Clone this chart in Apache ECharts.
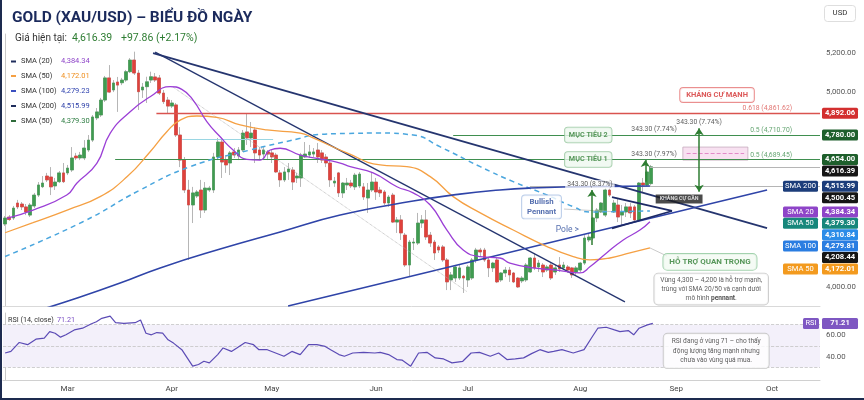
<!DOCTYPE html>
<html><head><meta charset="utf-8">
<script src="https://cdn.jsdelivr.net/npm/echarts@6/dist/echarts.min.js"></script>
<style>html,body{margin:0;padding:0;background:#fff}#c{width:864px;height:400px}</style>
</head><body><div id="c"></div>
<script>
// ---------- DATA ----------
// candles: [open, close, low, high]
const ohlc = [
[4322,4353,4312,4363],[4358,4345,4338,4368],[4353,4404,4343,4415],[4430,4410,4399,4446],[4425,4410,4394,4435],
[4410,4384,4368,4425],[4368,4420,4358,4430],[4415,4471,4404,4482],[4471,4523,4461,4538],[4514,4533,4507,4569],
[4569,4549,4538,4585],[4564,4513,4471,4615],[4518,4538,4497,4559],[4540,4585,4533,4595],[4585,4540,4533,4636],
[4585,4610,4574,4626],[4600,4662,4590,4718],[4672,4662,4651,4688],[4662,4677,4651,4693],[4662,4713,4651,4754],
[4703,4754,4693,4780],[4754,4873,4744,4883],[4868,4899,4857,4919],[4883,4960,4873,4971],[4960,5074,4950,5084],
[5074,5001,4996,5140],[5012,5048,5001,5063],[5053,5037,4899,5079],[5049,5063,5037,5074],[5063,5106,5054,5115],
[5106,5166,5099,5176],[5166,5099,5089,5209],[5099,5003,4909,5115],[5012,5027,4971,5048],[5029,5054,4945,5080],
[5063,5080,5048,5106],[5079,5063,5053,5099],[5074,4996,4986,5089],[4996,4952,4940,5012],[4960,4929,4893,4976],
[4929,4945,4919,4960],[4935,4780,4770,4945],[4780,4651,4615,4821],[4651,4497,4482,4667],[4497,4420,4137,4549],
[4420,4482,4327,4513],[4466,4487,4456,4497],[4497,4394,4353,4549],[4394,4507,4379,4538],[4497,4507,4487,4518],
[4497,4667,4482,4688],[4667,4744,4651,4765],[4744,4641,4559,4765],[4651,4626,4585,4677],[4636,4688,4574,4698],
[4693,4677,4662,4713],[4672,4703,4651,4718],[4703,4790,4693,4806],[4796,4765,4729,4893],[4765,4790,4718,4847],
[4806,4688,4636,4821],[4703,4677,4651,4718],[4682,4703,4651,4718],[4693,4682,4651,4703],[4688,4667,4636,4703],
[4677,4590,4585,4688],[4585,4549,4513,4600],[4549,4590,4538,4615],[4590,4605,4549,4636],[4600,4538,4497,4615],
[4559,4569,4533,4585],[4559,4677,4513,4688],[4667,4682,4662,4744],[4677,4693,4662,4729],[4682,4693,4667,4713],
[4703,4667,4636,4739],[4688,4651,4636,4703],[4667,4636,4615,4682],[4636,4549,4513,4651],[4533,4543,4513,4564],
[4585,4482,4461,4590],[4482,4533,4456,4538],[4523,4533,4497,4559],[4533,4518,4507,4549],[4513,4574,4497,4585],
[4518,4579,4507,4590],[4513,4461,4446,4533],[4456,4497,4379,4533],[4497,4538,4487,4590],[4538,4487,4446,4559],
[4497,4482,4461,4513],[4487,4430,4420,4497],[4430,4461,4410,4471],[4471,4332,4327,4482],[4332,4343,4276,4358],
[4343,4276,4240,4368],[4265,4111,4101,4276],[4111,4229,4049,4240],[4224,4229,4188,4250],[4224,4327,4214,4379],
[4327,4343,4302,4368],[4343,4255,4240,4394],[4265,4224,4204,4281],[4229,4173,4137,4240],[4204,4188,4173,4214],
[4204,4137,4127,4214],[4137,4024,3982,4147],[4034,4060,3982,4075],[4044,4101,4024,4111],[4044,4096,4034,4111],
[4054,4044,3967,4060],[4034,4101,3998,4111],[4044,4137,4034,4147],[4137,4188,4121,4199],[4188,4178,4152,4199],
[4188,4137,4127,4199],[4137,4096,4049,4147],[4096,4121,4075,4127],[4137,4024,4018,4147],[4034,4070,4024,4075],
[4070,4085,4049,4101],[4085,4060,4024,4101],[4070,4024,4018,4075],[4044,3998,3993,4049],[4029,4044,4018,4054],
[4034,4111,4024,4121],[4075,4147,4070,4152],[4147,4096,4085,4173],[4101,4121,4075,4137],[4111,4075,4049,4121],
[4085,4101,4075,4111],[4111,4044,4034,4121],[4075,4096,4060,4111],[4111,4091,4075,4152],[4096,4111,4085,4127],
[4101,4085,4070,4111],[4096,4060,4044,4101],[4075,4096,4060,4106],[4085,4121,4075,4127],[4121,4250,4111,4265],
[4240,4255,4229,4276],[4250,4353,4240,4358],[4353,4394,4332,4404],[4384,4430,4379,4435],[4368,4497,4358,4507],
[4497,4471,4461,4549],[4384,4430,4379,4446],[4420,4358,4332,4456],[4368,4384,4317,4420],[4384,4410,4358,4430],
[4410,4379,4353,4430],[4410,4343,4332,4420],[4343,4533,4332,4538],[4533,4523,4482,4559],[4523,4590,4513,4600],
[4530,4616.39,4520,4626]
];
// moving averages: [candle index, price]
const sma20Pts = [[0.4,4351],[6.7,4394],[14.8,4471],[17.2,4532],[22,4634],[25.2,4789],[30,4900],[34.8,4977],[39.6,5029],[42.4,5015],[45.1,4960],[48.4,4849],[51.6,4771],[54.7,4703],[58,4655],[61.2,4651],[63.6,4703],[66,4712],[70.8,4677],[77.2,4651],[80.4,4636],[82.8,4617],[88.3,4585],[94,4514],[97.9,4482],[102,4420],[106,4291],[109.9,4188],[114,4154],[118.7,4147],[121.1,4121],[126.7,4096],[132.3,4085],[137.9,4070],[140.3,4102],[144.3,4173],[148.3,4240],[152.3,4291],[154.7,4334]];
const sma50Pts = [[0,4277],[6.7,4329],[14.9,4394],[22.8,4463],[29.3,4566],[34.8,4694],[38.8,4797],[42,4857],[46,4878],[50.8,4871],[56.4,4832],[62.8,4806],[70.8,4790],[73.9,4765],[82,4688],[90,4626],[96.4,4617],[102,4566],[107.5,4463],[114,4379],[121.9,4291],[130,4206],[136.3,4154],[140.3,4137],[145.1,4147],[149.9,4173],[154.7,4199]];
const sma100Pts = [[0,4155],[18.7,4334],[32.4,4497],[44.4,4617],[58.8,4703],[70.8,4763],[73.9,4780],[82,4788],[90,4790],[97.9,4780],[104.3,4720],[114,4617],[121.9,4540],[130,4471],[136.3,4411],[140.3,4384],[147,4386],[154.7,4389]];
const sma200Pts = [[8.4,3880],[17.3,3941],[27.6,4018],[37.2,4096],[51.6,4193],[66,4281],[80.4,4368],[97.9,4440],[109.1,4476],[118.7,4497],[125.9,4507],[135.5,4513],[154.7,4518]];
// RSI(14): [candle index, value]
const rsiPts = [[0,43.4],[1.4,44.9],[3.4,53.3],[5.4,51.2],[7.4,56.4],[9.4,57.4],[10.7,63.5],[12,62.0],[13.3,58.3],[14.6,60.5],[16.6,65.1],[18.6,66.7],[20.6,70.7],[21.9,72.8],[23.2,76.0],[25.2,78.1],[26.5,71.9],[28.5,71.3],[31.2,71.9],[32.5,74.4],[33.8,62.0],[35.1,60.5],[36.4,62.6],[37.8,62.0],[39.1,55.8],[40.4,52.7],[42.4,46.5],[43.7,38.8],[45,31.0],[46.4,32.6],[47.7,35.6],[49,34.1],[51,41.9],[52.3,48.1],[54.3,44.9],[55.6,48.1],[57.6,53.3],[59.6,51.2],[60.9,46.5],[62.9,46.5],[64.9,43.4],[66.9,40.3],[68.8,44.9],[70.8,41.9],[72.8,51.2],[74.8,51.2],[76.8,49.6],[78.1,46.5],[80.1,41.9],[81.4,40.3],[83.4,43.4],[86,44.0],[88.7,43.4],[90,44.0],[92,41.9],[94,37.2],[95.3,36.6],[97.3,31.0],[99.2,43.4],[101.2,44.0],[103.2,38.8],[105.2,37.8],[107.2,34.1],[109.8,35.6],[111.8,43.4],[113.8,44.0],[116.4,40.3],[118.4,43.4],[120.4,37.2],[122.4,37.8],[124.4,38.8],[126.3,42.8],[128.3,46.5],[130.3,44.0],[131.6,44.9],[133.6,46.5],[136.3,43.4],[138.9,46.5],[140.9,58.9],[142.2,66.7],[144.2,67.6],[146.2,65.1],[147.5,63.5],[149.5,64.5],[150.8,60.5],[152.1,66.7],[154.1,69.8],[155.4,71.21]];
const rsiLast = 71.21;
// axis
const nCats = 196;
const cats = Array.from({length:nCats},(_,i)=>String(i));
const monthTickIdx = [15,40,64,89,111,138,161,184];
const monthTickLabels = ['Mar','Apr','May','Jun','Jul','Aug','Sep','Oct'];
const yTicksShown = [4000,5000,5200];
const rsiTicksShown = [40,60];
// header
const priceNow = 4616.39, priceChg = 97.86, priceChgPct = 2.17;
// legend
const legendNames = ['SMA (20)','SMA (50)','SMA (100)','SMA (200)','SMA (50)'];
const legendValues = [4384.34,4172.01,4279.23,4515.99,4379.30];
// price levels
const lvlStrongRes = 4892.06, lvlTarget2 = 4780.00, lvlTarget1 = 4654.00, lvlSma200 = 4515.99;
const fibLabels = ['0.618 (4,861.62)','0.5 (4,710.70)','0.5 (4,689.45)'];
const moveLabels = ['343.30 (8.37%)','343.30 (7.97%)','343.30 (7.74%)','343.30 (7.74%)'];
// right-axis tags
const tagValues = [4892.06,4780.00,4654.00,4616.39,4515.99,4500.45,4384.34,4379.30,4310.84,4279.81,4208.44,4172.01];
const tagNames  = ['','','','','SMA 200','','SMA 20','SMA 50','','SMA 100','','SMA 50'];
// trend lines [[x,y],[x,y]] in (candle index, price)
const trendUpper = [[35.5,5202],[182.8,4301]];
const trendSteep = [[36,5207],[148.7,3921]];
const trendLower = [[67.9,3900],[182.8,4497]];
const trendDotted = [[40.3,5027],[110.8,3974]];
const pennantTop = [[145.6,4461],[160,4389]];
const pennantBot = [[145.6,4300],[160,4389]];
const arrowPole = [140.8,4214,4497];
const arrowBreak = [153.6,4540,4651];
const arrowTarget = [166.5,4488,4815];

// ---------- STYLE ----------
const FONT = 'Roboto, "Noto Sans", sans-serif';
const f2 = v => v.toLocaleString('en-US',{minimumFractionDigits:2,maximumFractionDigits:2});
const tagColors = ['#d32f2f','#1e5f2c','#1e5f2c','#151515','#1c3d7a','#151515','#8e44c8','#17877b','#2b8ce8','#2a7de1','#151515','#f39a1e'];
const legendMarkColors = ['#1f2d5c','#f5a043','#3a4fc0','#1f2d5c','#2e6b3a'];
const legendValueColors = ['#8e44c8','#ef8f1f','#3245b0','#2c3fa8','#2e7d42'];
const GREEN='#3f8f4f', NAVY='#25356f';
const XR = 195.5;

function seg(a,b,style,s1,s2){return [{coord:a,lineStyle:style,symbol:s1||'none'},{coord:b,symbol:s2||'none'}];}
function hline(v,x0,style){return seg([x0,v],[XR,v],style);}

const chart = echarts.init(document.getElementById('c'),null,{renderer:'canvas'});

const bodies = ohlc.map(d=>[d[0],d[1],Math.min(d[0],d[1]),Math.max(d[0],d[1])]);

function lab(x,y,text,opt){return {value:[x,y],label:Object.assign({show:true,position:'inside',formatter:text,fontFamily:FONT},opt)};}

const annotations = [
  lab(170.8,4986,'KHÁNG CỰ MẠNH',{color:'#d32f2f',fontSize:7.5,fontWeight:'bold',backgroundColor:'#fff',borderColor:'#e57373',borderWidth:0.9,borderRadius:3,padding:[3,6]}),
  lab(139.9,lvlTarget2,'MỤC TIÊU 2',{color:'#2e7d32',fontSize:7.2,fontWeight:'bold',backgroundColor:'#eef7ef',borderColor:'#8cc195',borderWidth:0.8,borderRadius:3,padding:[4,4]}),
  lab(139.9,lvlTarget1,'MỤC TIÊU 1',{color:'#2e7d32',fontSize:7.2,fontWeight:'bold',backgroundColor:'#eef7ef',borderColor:'#8cc195',borderWidth:0.8,borderRadius:3,padding:[4,4]}),
  lab(188.8,lvlStrongRes,fibLabels[0],{color:'#d9534f',fontSize:6.8,align:'right',verticalAlign:'bottom',offset:[0,-1]}),
  lab(188.8,lvlTarget2,fibLabels[1],{color:GREEN,fontSize:6.8,align:'right',verticalAlign:'bottom',offset:[0,-1]}),
  lab(188.8,lvlTarget1,fibLabels[2],{color:GREEN,fontSize:6.8,align:'right',verticalAlign:'bottom',offset:[0,-1]}),
  lab(140.3,4525,moveLabels[0],{color:'#333',fontSize:6.8,backgroundColor:'rgba(255,255,255,0.9)',padding:[1,2]}),
  lab(155.7,lvlTarget1,moveLabels[1],{color:'#333',fontSize:6.8,verticalAlign:'bottom',offset:[0,-2]}),
  lab(155.7,lvlTarget2,moveLabels[2],{color:'#333',fontSize:6.8,verticalAlign:'bottom',offset:[0,-2]}),
  lab(166.5,arrowTarget[2],moveLabels[3],{color:'#333',fontSize:6.8,verticalAlign:'bottom',offset:[0,-2]}),
  lab(161.7,4451,'KHÁNG CỰ GẦN',{color:'#fff',fontSize:5.3,fontWeight:'bold',backgroundColor:'#1e1e1e',padding:[2,4]}),
  lab(128.7,4410,'Bullish\nPennant',{color:'#2a4b9b',fontSize:7.8,fontWeight:'bold',lineHeight:10.5,align:'center',backgroundColor:'#fff',borderColor:'#a9c1e3',borderWidth:0.9,borderRadius:3,padding:[1,5]}),
  lab(134.9,4291,'Pole >',{color:'#2a4b9b',fontSize:8.5}),
  lab(169.1,4127,'HỖ TRỢ QUAN TRỌNG',{color:'#2e7d32',fontSize:8,fontWeight:'bold',backgroundColor:'#f3faf3',borderColor:'#8cc79a',borderWidth:0.9,borderRadius:4,padding:[4,6]}),
  lab(169.4,3987,'Vùng 4,300 – 4,200 là hỗ trợ mạnh,\ntrùng với SMA 20/50 và cạnh dưới\nmô hình {b|pennant}.',{color:'#333',fontSize:6.6,lineHeight:9,align:'center',backgroundColor:'#fff',borderColor:'#bdbdbd',borderWidth:0.9,borderRadius:4,padding:[2,6],rich:{b:{fontWeight:'bold',fontSize:6.6,lineHeight:9,color:'#222',fontFamily:FONT}}})
];

const option = {
  animation:false,
  textStyle:{fontFamily:FONT},
  grid:[{left:3,right:44,top:34,height:272},{left:3,right:44,top:313,height:67}],
  xAxis:[
    {type:'category',gridIndex:0,data:cats,axisLine:{show:true,lineStyle:{color:'#d9d9d9'}},axisTick:{show:false},axisLabel:{show:false},splitLine:{show:false}},
    {type:'value',gridIndex:0,min:-0.5,max:XR,show:false},
    {type:'category',gridIndex:1,data:cats,axisLine:{show:true,lineStyle:{color:'#d0d0d0'}},axisTick:{show:false},splitLine:{show:false},
      axisLabel:{interval:(i)=>monthTickIdx.indexOf(i)>=0,formatter:(v,i)=>monthTickLabels[monthTickIdx.indexOf(i)]||'',color:'#444',fontSize:8,margin:5}},
    {type:'value',gridIndex:1,min:-0.5,max:XR,show:false}
  ],
  yAxis:[
    {type:'value',gridIndex:0,position:'right',min:3900,max:5300,interval:100,axisLine:{show:true,lineStyle:{color:'#c8c8c8'}},axisTick:{show:false},splitLine:{show:false},
      axisLabel:{formatter:v=>yTicksShown.indexOf(v)>=0?f2(v):'',color:'#555',fontSize:7.8,margin:6}},
    {type:'value',gridIndex:1,position:'right',min:18,max:81,interval:1,axisLine:{show:true,lineStyle:{color:'#c8c8c8'}},axisTick:{show:false},splitLine:{show:false},
      axisLabel:{formatter:v=>rsiTicksShown.indexOf(v)>=0?f2(v):'',color:'#555',fontSize:7.8,margin:6}}
  ],
  series:[
    {type:'candlestick',name:'wick',xAxisIndex:0,yAxisIndex:0,data:ohlc,barWidth:3.2,z:3,silent:true,
      itemStyle:{color:'#a3a3a3',color0:'#a3a3a3',borderColor:'#a3a3a3',borderColor0:'#a3a3a3',borderWidth:0.8}},
    {type:'candlestick',name:'body',xAxisIndex:0,yAxisIndex:0,data:bodies,barWidth:3.2,z:4,silent:true,
      itemStyle:{color:'#3f9c50',color0:'#e0413b',borderColor:'#3f9c50',borderColor0:'#e0413b',borderWidth:0.5}},
    {type:'line',name:'SMA100',xAxisIndex:1,yAxisIndex:0,data:sma100Pts,smooth:true,showSymbol:false,z:5,lineStyle:{color:'#4aa6de',width:1.5,type:[5,4]}},
    {type:'line',name:'SMA50',xAxisIndex:1,yAxisIndex:0,data:sma50Pts,smooth:true,showSymbol:false,z:5,lineStyle:{color:'#f5a043',width:1.3}},
    {type:'line',name:'SMA200',xAxisIndex:1,yAxisIndex:0,data:sma200Pts,smooth:true,showSymbol:false,z:5,lineStyle:{color:'#2f44a8',width:1.6}},
    {type:'line',name:'SMA20',xAxisIndex:1,yAxisIndex:0,data:sma20Pts,smooth:true,showSymbol:false,z:6,lineStyle:{color:'#9b3fd6',width:1.3}},
    {type:'line',name:'overlay',xAxisIndex:1,yAxisIndex:0,data:[[0,3800]],showSymbol:false,lineStyle:{opacity:0},z:7,silent:true,
      markArea:{silent:true,data:[[{coord:[162.6,4718],itemStyle:{color:'rgba(243,205,232,0.6)',borderColor:'#c4aabb',borderWidth:0.8}},{coord:[178.2,4651]}]]},
      markLine:{silent:true,animation:false,label:{show:false},symbolSize:7,data:[
        hline(lvlStrongRes,36.3,{color:'#d9534f',width:1.3,type:'solid'}),
        hline(lvlTarget2,107.5,{color:GREEN,width:1.2,type:'solid'}),
        hline(lvlTarget1,26.4,{color:GREEN,width:1.2,type:'solid'}),
        hline(priceNow,154.7,{color:'#b5b5b5',width:1,type:'solid'}),
        hline(lvlSma200,125.9,{color:'#b5b5b5',width:1,type:'solid'}),
        seg([163.5,4684],[177.3,4684],{color:'#e28ac8',width:1,type:'dashed'}),
        seg([42.5,4757],[64.3,4757],{color:'#9ad6e3',width:1.2,type:'solid'}),
        seg(trendUpper[0],trendUpper[1],{color:NAVY,width:1.8,type:'solid'}),
        seg(trendSteep[0],trendSteep[1],{color:NAVY,width:1.3,type:'solid'}),
        seg(trendLower[0],trendLower[1],{color:'#2f44a8',width:1.5,type:'solid'}),
        seg(trendDotted[0],trendDotted[1],{color:'#aaaaaa',width:0.8,type:'dotted'}),
        seg(pennantTop[0],pennantTop[1],{color:'#1d2a66',width:1.8,type:'solid'}),
        seg(pennantBot[0],pennantBot[1],{color:'#1d2a66',width:1.8,type:'solid'}),
        seg([134.1,4399],[145.6,4386],{color:'#bcbcbc',width:0.8,type:'solid'}),
        seg([154.7,4199],[158.8,4157],{color:'#bcbcbc',width:0.8,type:'solid'}),
        seg([arrowPole[0],arrowPole[1]],[arrowPole[0],arrowPole[2]],{color:'#2e7d32',width:1.5,type:'solid'},'none','arrow'),
        seg([arrowBreak[0],arrowBreak[1]],[arrowBreak[0],arrowBreak[2]],{color:'#2e7d32',width:1.5,type:'solid'},'none','arrow'),
        seg([arrowTarget[0],arrowTarget[1]],[arrowTarget[0],arrowTarget[2]],{color:'#2e7d32',width:1.5,type:'solid'},'arrow','arrow')
      ]}},
    {type:'scatter',name:'notes',xAxisIndex:1,yAxisIndex:0,data:annotations,symbolSize:1,itemStyle:{color:'rgba(0,0,0,0)'},z:20,silent:true},
    {type:'line',name:'RSI',xAxisIndex:3,yAxisIndex:1,data:rsiPts,showSymbol:false,z:5,lineStyle:{color:'#5b4bb5',width:1.2},
      markArea:{silent:true,data:[[{yAxis:30,itemStyle:{color:'#f3f0fa'}},{yAxis:70}]]},
      markLine:{silent:true,symbol:'none',label:{show:false},lineStyle:{color:'#c4c4c4',type:'dashed',width:0.8},data:[{yAxis:70},{yAxis:50},{yAxis:30}]}},
    {type:'scatter',name:'rsiNote',xAxisIndex:3,yAxisIndex:1,symbolSize:1,itemStyle:{color:'rgba(0,0,0,0)'},z:20,silent:true,
      data:[lab(170.6,45.3,'RSI đang ở vùng 71 – cho thấy\nđộng lượng tăng mạnh nhưng\nchưa vào vùng quá mua.',{color:'#333',fontSize:6.6,lineHeight:9.5,align:'center',backgroundColor:'#fff',borderColor:'#bdbdbd',borderWidth:0.9,borderRadius:4,padding:[3,8]})]}
  ]
};
chart.setOption(option);

// ---------- graphic overlay (header, legend, axis tags) ----------
const g = [];
function txt(x,y,t,font,fill,align){g.push({type:'text',x:x,y:y,z:100,silent:true,style:{text:t,font:font,fill:fill,align:align||'left',verticalAlign:'middle'}});}
function rect(x,y,w,h,fill,stroke,r){g.push({type:'rect',z:99,silent:true,shape:{x:x,y:y,width:w,height:h,r:r||0},style:{fill:fill,stroke:stroke||null,lineWidth:stroke?0.8:0}});}
txt(12,18,'GOLD (XAU/USD) – BIỂU ĐỒ NGÀY','bold 15.5px '+FONT,'#1b2a5c');
txt(15,38.5,'Giá hiện tại:','10px '+FONT,'#333');
txt(72,38.5,f2(priceNow),'10.5px '+FONT,'#2e7d32');
txt(121,38.5,'+'+f2(priceChg)+' (+'+priceChgPct.toFixed(2)+'%)','10.5px '+FONT,'#2e7d32');
const legY=[61.5,76,91,106,121];
legendNames.forEach((n,k)=>{
  g.push({type:'line',z:100,silent:true,shape:{x1:11,y1:legY[k],x2:16,y2:legY[k]},style:{stroke:legendMarkColors[k],lineWidth:2}});
  txt(21,legY[k],n,'7.5px '+FONT,'#333');
  txt(61,legY[k],f2(legendValues[k]),'7.5px '+FONT,legendValueColors[k]);
});
rect(824.5,5.5,31,16,'#fff','#d6d6d6',3);
txt(840,13.5,'USD','7.8px '+FONT,'#333','center');
txt(8,320,'RSI (14, close)','7.2px '+FONT,'#333');
txt(57,320,f2(rsiLast),'7.2px '+FONT,'#7b4fc4');
// right axis tags, stacked
const tags = tagValues.map((v,k)=>({v:v,name:tagNames[k],col:tagColors[k],y:chart.convertToPixel({yAxisIndex:0},v)}));
tags.sort((a,b)=>a.y-b.y);
let prev=-1e9;
tags.forEach(t=>{
  const y=Math.max(t.y,prev+11.4); prev=y;
  rect(822,y-5.5,36,11,t.col,null,1.5);
  txt(840,y,f2(t.v),'bold 7.6px '+FONT,'#fff','center');
  if(t.name){rect(783,y-5.5,35,11,t.col,null,1.5);txt(800.5,y,t.name,'7.6px '+FONT,'#fff','center');}
});
const ry = chart.convertToPixel({yAxisIndex:1},rsiLast);
rect(803,ry-5.5,16,11,'#7e57c2',null,1.5); txt(811,ry,'RSI','7.4px '+FONT,'#fff','center');
rect(822,ry-5.5,36,11,'#7e57c2',null,1.5); txt(840,ry,f2(rsiLast),'bold 7.6px '+FONT,'#fff','center');
// frame
g.push({type:'line',z:100,silent:true,shape:{x1:1,y1:0,x2:1,y2:400},style:{stroke:'#1d2b4f',lineWidth:2}});
g.push({type:'line',z:100,silent:true,shape:{x1:0,y1:399,x2:864,y2:399},style:{stroke:'#1d2b4f',lineWidth:2}});
chart.setOption({graphic:g});
</script></body></html>
